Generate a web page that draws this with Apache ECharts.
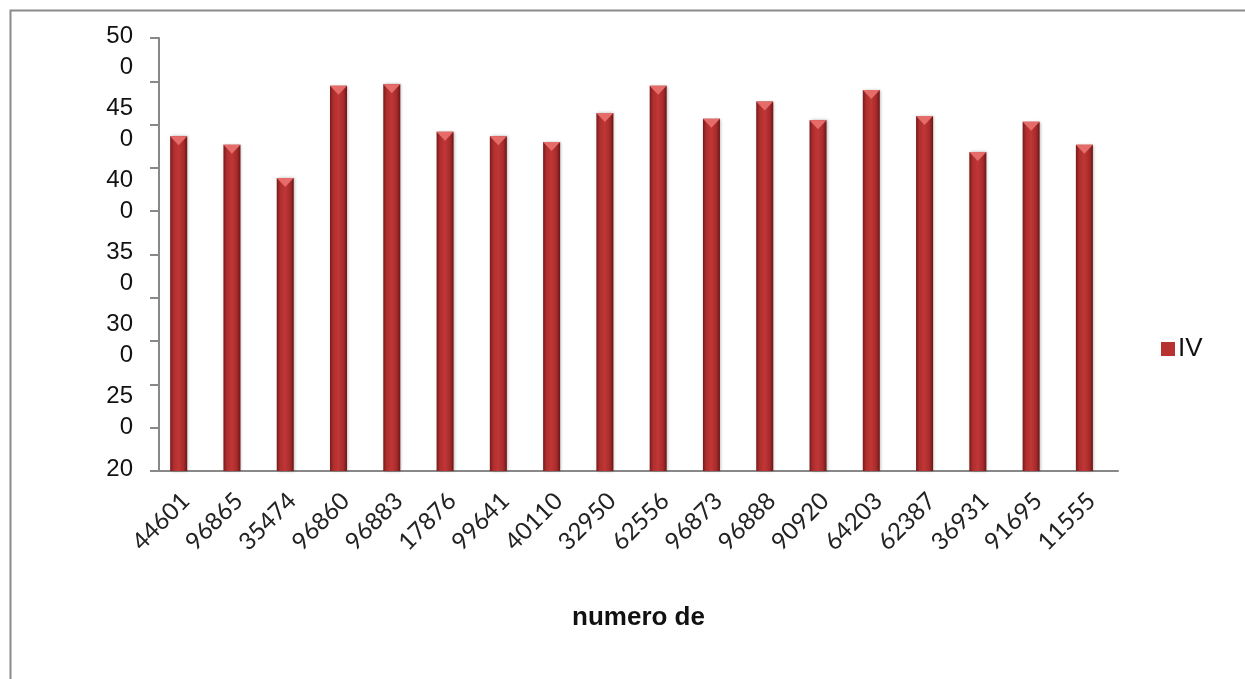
<!DOCTYPE html>
<html>
<head>
<meta charset="utf-8">
<script src="https://cdn.jsdelivr.net/npm/echarts@6/dist/echarts.min.js"></script>
<style>
  html, body { margin: 0; padding: 0; background: #fff; }
  #chart { width: 1245px; height: 679px; }
</style>
</head>
<body>
<div id="chart"></div>
<script>
// data
var categories = ['44601', '96865', '35474', '96860', '96883', '17876', '99641', '40110', '32950',
    '62556', '96873', '96888', '90920', '64203', '62387', '36931', '91695', '11555'];
var ivValues = [432, 426, 403, 467, 468, 435, 432, 428, 448, 467, 444, 456, 443, 464, 446, 421, 442, 426];
// y labels are wrapped in the original: first part, then the rest on a second line
var yLabelTop = ['20', '25', '30', '35', '40', '45', '50'];
var yLabelRest = ['', '0', '0', '0', '0', '0', '0'];

var chart = echarts.init(document.getElementById('chart'));

var barColor = new echarts.graphic.LinearGradient(0, 0, 1, 0, [
    { offset: 0, color: '#761a1a' },
    { offset: 0.2, color: '#b02e2e' },
    { offset: 0.5, color: '#c03636' },
    { offset: 0.8, color: '#a52a2a' },
    { offset: 1, color: '#6a1616' }
]);

var labelFont = { fontFamily: 'Liberation Sans', fontSize: 24, color: '#111' };

option = {
    backgroundColor: '#fff',
    animation: false,
    graphic: [{
        type: 'rect',
        left: 8, top: 8,
        shape: { width: 1300, height: 700 },
        style: { fill: 'none', stroke: '#8a8a8a', lineWidth: 2 }
    }],
    grid: { left: 159, right: 127, top: 38, bottom: 208, outerBoundsMode: 'none' },
    legend: {
        data: ['IV'],
        left: 1156,
        top: 331,
        icon: 'rect',
        itemWidth: 14,
        itemHeight: 14,
        itemGap: 4,
        itemStyle: { color: '#b83232' },
        textStyle: { fontFamily: 'Liberation Sans', fontSize: 26, color: '#111', padding: [0, 0, 0, -2] }
    },
    xAxis: {
        type: 'category',
        data: categories,
        axisLine: { lineStyle: { color: '#888', width: 2 } },
        axisTick: { length: 9, lineStyle: { color: '#888', width: 2 } },
        axisLabel: {
            interval: 0,
            rotate: 45,
            margin: 26,
            fontFamily: 'Lato',
            fontSize: 24,
            color: '#222'
        },
        name: 'numero de',
        nameLocation: 'middle',
        nameGap: 134,
        nameTextStyle: { fontFamily: 'Liberation Sans', fontWeight: 'bold', fontSize: 26, color: '#111' }
    },
    yAxis: [{
        type: 'value',
        min: 200,
        max: 500,
        interval: 30,
        axisLine: { show: true, lineStyle: { color: '#888', width: 2 } },
        axisTick: { show: true, length: 9, lineStyle: { color: '#888', width: 2 } },
        axisLabel: { show: false },
        splitLine: { show: false }
    }, {
        type: 'value',
        min: 200,
        max: 500,
        interval: 50,
        position: 'left',
        axisLine: { show: false },
        axisTick: { show: false },
        splitLine: { show: false },
        axisLabel: {
            margin: 26,
            showMinLabel: true,
            showMaxLabel: true,
            hideOverlap: false,
            verticalAlign: 'top',
            formatter: function (v) {
                var i = Math.round((v - 200) / 50);
                var s = '{a|' + yLabelTop[i] + '}';
                if (yLabelRest[i]) s += '\n{b|' + yLabelRest[i] + '}';
                return s;
            },
            rich: {
                a: Object.assign({ lineHeight: 2, padding: [0, 0, 6, 0] }, labelFont),
                b: Object.assign({ lineHeight: 54 }, labelFont)
            }
        }
    }],
    series: [{
        name: 'IV',
        type: 'bar',
        data: ivValues,
        barWidth: 17,
        barGap: '76%',
        itemStyle: {
            color: barColor,
            shadowColor: 'rgba(0,0,0,0.3)',
            shadowBlur: 3,
            shadowOffsetX: 1
        }
    }, {
        name: '_pad',
        type: 'bar',
        data: ivValues.map(function () { return '-'; }),
        barWidth: 1
    }, {
        name: 'top',
        type: 'pictorialBar',
        data: ivValues,
        symbol: 'path://M0,0 L2,0 L1,1 Z',
        symbolSize: [17, 9],
        symbolPosition: 'end',
        symbolOffset: [-7, 0],
        itemStyle: { color: '#e56c68' },
        z: 3
    }]
};

chart.setOption(option);
</script>
</body>
</html>
